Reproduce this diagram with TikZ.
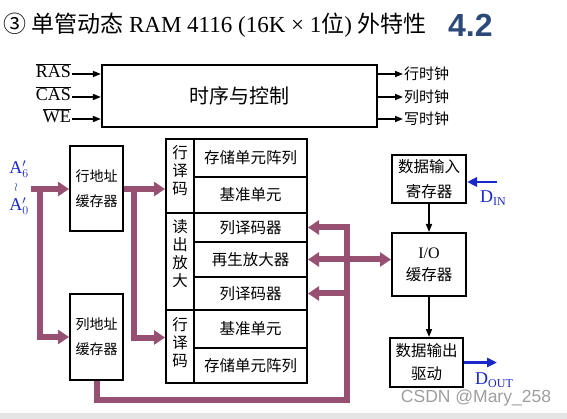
\documentclass[tikz,border=0pt]{standalone}
\usepackage{fontspec}
\setmainfont{Liberation Serif}
\newfontfamily\cjk{Noto Sans CJK SC}
\newfontfamily\lsans{Liberation Sans}
\usetikzlibrary{arrows.meta}
\definecolor{pp}{RGB}{152,80,114}
\definecolor{dblue}{RGB}{25,40,200}
\definecolor{numblue}{RGB}{43,74,122}
\begin{document}
\begin{tikzpicture}[x=1pt,y=-1pt,
  box/.style={draw,line width=2pt,inner sep=0pt,align=center},
  celltxt/.style={font=\cjk\fontsize{15.5}{18}\selectfont},
  vt/.style={font=\cjk\fontsize{15.5}{18}\selectfont,align=center,inner sep=0pt},
  buftxt/.style={font=\cjk\fontsize{14}{25}\selectfont},
  lab/.style={font=\fontsize{18}{20}\selectfont,inner sep=1pt},
  clab/.style={font=\cjk\fontsize{15}{18}\selectfont,inner sep=1pt},
  blk/.style={draw,line width=1.5pt,-{Triangle[length=8pt,width=6pt]}},
  pline/.style={draw=pp,line width=6pt},
  parr/.style={pline,-{Triangle[length=11pt,width=14pt]}},
  pdbl/.style={pline,{Triangle[length=11pt,width=14pt]}-{Triangle[length=11pt,width=14pt]}},
  barr/.style={draw=dblue,line width=2.8pt,-{Triangle[length=10pt,width=9pt]}},
  btxt/.style={text=dblue,inner sep=0pt}]
\useasboundingbox (0,0) rectangle (567,419);
\fill[black!10] (0,413) rectangle (567,419);

% title
\node[anchor=west,inner sep=0pt,font=\fontsize{23}{26}\selectfont] (title) at (3,25)
  {{\cjk ③ 单管动态} RAM 4116 (16K × 1{\cjk 位}) {\cjk 外特性}};
\node[anchor=west,inner sep=0pt,font=\lsans\bfseries\fontsize{32}{34}\selectfont,text=numblue] (num) at (448,25) {4.2};

% control block
\node[box,line width=2.2pt,minimum width=275pt,minimum height=62pt,font=\cjk\fontsize{20}{24}\selectfont] (ctrl) at (239.5,96) {时序与控制};
\node[lab,anchor=east] (ras) at (72,71) {$\overline{\mbox{RAS}}$};
\node[lab,anchor=east] (cas) at (72,94) {$\overline{\mbox{CAS}}$};
\node[lab,anchor=east] (we) at (72,116) {$\overline{\mbox{WE}}$};
\draw[blk] ([yshift=-3pt]ras.east) -- ([yshift=-3pt]ras.east -| ctrl.west);
\draw[blk] ([yshift=-3pt]cas.east) -- ([yshift=-3pt]cas.east -| ctrl.west);
\draw[blk] ([yshift=-3pt]we.east) -- ([yshift=-3pt]we.east -| ctrl.west);
\node[clab,anchor=west] (o1) at (403,74) {行时钟};
\node[clab,anchor=west] (o2) at (403,97) {列时钟};
\node[clab,anchor=west] (o3) at (403,119) {写时钟};
\draw[blk] (o1.west -| ctrl.east) -- (o1.west);
\draw[blk] (o2.west -| ctrl.east) -- (o2.west);
\draw[blk] (o3.west -| ctrl.east) -- (o3.west);

% address buffers
\node[box,minimum width=53pt,minimum height=85pt,buftxt] (rowbuf) at (96.5,189) {行地址\\缓存器};
\node[box,minimum width=53pt,minimum height=86pt,buftxt] (colbuf) at (96.5,337) {列地址\\缓存器};

% A labels
\node[btxt,font=\fontsize{18}{20}\selectfont] (a6) at (19,169) {A$'_{6}$};
\node[btxt,font=\large] (wr) at (16,188) {$\wr$};
\node[btxt,font=\fontsize{18}{20}\selectfont] (a0) at (19,206) {A$'_{0}$};

% memory block
\node[box,minimum width=28pt,minimum height=74pt] (hy1) at (180,176) {};
\node[vt] (hy1t) at ([yshift=5pt]hy1.center) {行\\译\\码};
\node[box,minimum width=113pt,minimum height=38pt,celltxt] (cell1) at (250.5,158) {存储单元阵列};
\node[box,minimum width=113pt,minimum height=36pt,celltxt] (cell2) at (250.5,195) {基准单元};
\node[box,minimum width=28pt,minimum height=97pt] (dc) at (180,261.5) {};
\node[vt] (dct) at ([yshift=8pt]dc.center) {读\\出\\放\\大};
\node[box,minimum width=113pt,minimum height=29pt,celltxt] (cell3) at (250.5,227.5) {列译码器};
\node[box,minimum width=113pt,minimum height=35pt,celltxt] (cell4) at (250.5,259.5) {再生放大器};
\node[box,minimum width=113pt,minimum height=33pt,celltxt] (cell5) at (250.5,293.5) {列译码器};
\node[box,minimum width=28pt,minimum height=73pt] (hy2) at (180,346.5) {};
\node[vt] (hy2t) at ([yshift=4pt]hy2.center) {行\\译\\码};
\node[box,minimum width=113pt,minimum height=38pt,celltxt] (cell6) at (250.5,329) {基准单元};
\node[box,minimum width=113pt,minimum height=35pt,celltxt] (cell7) at (250.5,365.5) {存储单元阵列};

% data path
\node[box,minimum width=74pt,minimum height=48pt,font=\cjk\fontsize{15.5}{25}\selectfont] (dinreg) at (429,179) {数据输入\\寄存器};
\node[box,minimum width=74pt,minimum height=63pt,font=\fontsize{16}{22}\selectfont] (iobuf) at (429,264.5) {I/O\\{\cjk\fontsize{15.5}{22}\selectfont 缓存器}};
\node[box,minimum width=73pt,minimum height=49pt,font=\cjk\fontsize{15.5}{23}\selectfont] (doutdrv) at (426.5,362.5) {数据输出\\驱动};
\draw[blk] (dinreg.south) -- (iobuf.north);
\draw[blk] (iobuf.south) -- (iobuf.south |- doutdrv.north);

\coordinate (dinsrc) at (497,182);
\draw[barr] (dinsrc) -- (dinsrc -| dinreg.east);
\node[btxt,anchor=west,font=\fontsize{18}{20}\selectfont] (din) at (480,198) {D\raisebox{-3pt}{\fontsize{12}{12}\selectfont IN}};
\coordinate (doutend) at (497,363);
\draw[barr] (doutdrv.east) -- (doutdrv.east -| doutend);
\node[btxt,anchor=west,font=\fontsize{18}{20}\selectfont] (dout) at (475,380) {D\raisebox{-3pt}{\fontsize{12}{12}\selectfont OUT}};

% purple address / data lines
\coordinate (ain) at (31,189);
\coordinate (asplit) at (40,189);
\draw[parr] (ain) -- (rowbuf.west);
\draw[parr] (asplit) |- (colbuf.west);
\coordinate (rsplit) at (134,189);
\draw[parr] (rowbuf.east) -- (rowbuf.east -| hy1.west);
\draw[parr] (rsplit) |- ([yshift=9pt]hy2.west);
\coordinate (cx) at (347,400);
\draw[parr] (colbuf.south) |- (cx) |- (cell3.east);
\draw[pdbl] (cell4.east) -- (cell4.east -| iobuf.west);
\draw[parr] (cell5.east -| cx) -- (cell5.east);

% watermark
\node[font=\lsans\fontsize{17.5}{20}\selectfont,text=black!38] (wm) at (476,398) {CSDN @Mary\_258};
\end{tikzpicture}
\end{document}
